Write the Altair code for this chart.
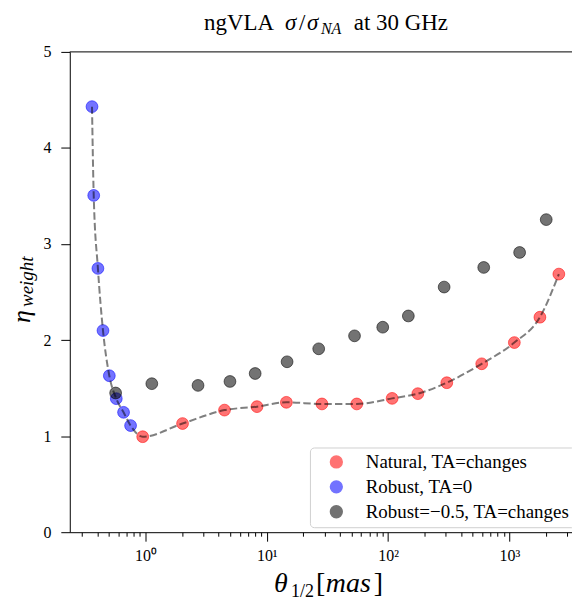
import altair as alt
import pandas as pd

# ---------------- data ----------------
series_names = ["Natural, TA=changes", "Robust, TA=0", "Robust=\u22120.5, TA=changes"]
series_colors = ["#ff0000", "#0000ff", "#000000"]

natural_x = [0.948, 2.02, 4.48, 8.3, 14.5, 28.5, 55.2, 108, 176, 305, 592, 1100, 1787, 2560]
natural_y = [0.994, 1.131, 1.271, 1.307, 1.352, 1.335, 1.335, 1.393, 1.442, 1.556, 1.753, 1.974, 2.238, 2.687]

robust0_x = [0.362, 0.374, 0.405, 0.446, 0.503, 0.574, 0.659, 0.753]
robust0_y = [4.43, 3.506, 2.746, 2.099, 1.629, 1.39, 1.248, 1.11]

robustm_x = [0.567, 1.127, 2.71, 4.97, 8.02, 14.7, 26.8, 52.9, 90.4, 147, 290, 615, 1216, 2015]
robustm_y = [1.449, 1.546, 1.528, 1.569, 1.652, 1.774, 1.909, 2.044, 2.134, 2.251, 2.552, 2.756, 2.912, 3.254]

x_major = [1, 10, 100, 1000]
x_major_labels = ["10\u2070", "10\u00b9", "10\u00b2", "10\u00b3"]
y_ticks = [0, 1, 2, 3, 4, 5]

# ---------------- tables ----------------
rows = []
for name, xs, ys in zip(series_names,
                        [natural_x, robust0_x, robustm_x],
                        [natural_y, robust0_y, robustm_y]):
    for xv, yv in zip(xs, ys):
        rows.append({"series": name, "theta": xv, "eta": yv})
df = pd.DataFrame(rows)

fit_df = pd.DataFrame({"theta": robust0_x + natural_x,
                       "eta": robust0_y + natural_y}).sort_values("theta")

W, H = 504, 482
x_dom = [0.2374, 3287]
x_ticks = []
for dec in [0.1, 1, 10, 100, 1000]:
    for m in range(1, 10):
        v = m * dec if dec >= 1 else round(m * dec, 1)
        if x_dom[0] <= v <= x_dom[1]:
            x_ticks.append(v)

major_test = " || ".join(f"datum.value == {v}" for v in x_major)
label_expr = "".join(f"datum.value == {v} ? '{lab}' : " for v, lab in zip(x_major, x_major_labels)) + "''"

FONT = "Liberation Serif"

x_scale = alt.Scale(type="log", domain=x_dom, nice=False)
y_scale = alt.Scale(domain=[0, 5], nice=False)

x_axis = alt.Axis(values=x_ticks, title=None, grid=False,
                  tickSize={"condition": {"test": major_test, "value": 9}, "value": 4},
                  labelExpr=label_expr, labelPadding=6, labelFlush=False,
                  labelOverlap=False)
y_axis = alt.Axis(values=y_ticks, title=None, grid=False, tickSize=9,
                  labelPadding=10, format="d")

color_scale = alt.Scale(domain=series_names, range=series_colors)

points = alt.Chart(df).mark_circle(size=140, fillOpacity=0.55, strokeOpacity=0.55,
                                   strokeWidth=1).encode(
    x=alt.X("theta:Q", scale=x_scale, axis=x_axis),
    y=alt.Y("eta:Q", scale=y_scale, axis=y_axis),
    color=alt.Color("series:N", scale=color_scale,
                    legend=alt.Legend(title=None, orient="none", legendX=241, legendY=397,
                                      padding=5, symbolOffset=12, symbolSize=140,
                                      symbolType="circle", symbolOpacity=0.55,
                                      labelFont=FONT, labelFontSize=19, labelOffset=20,
                                      rowPadding=5, strokeColor="#d0d0d0",
                                      fillColor="rgba(255,255,255,0.8)", cornerRadius=4,
                                      labelColor="black", labelLimit=0)),
    stroke=alt.Stroke("series:N", scale=color_scale, legend=None),
)

line = alt.Chart(fit_df).mark_line(color="black", strokeOpacity=0.5, strokeWidth=2,
                                   strokeDash=[7.4, 3.2], interpolate="monotone").encode(
    x=alt.X("theta:Q", scale=x_scale, axis=x_axis),
    y=alt.Y("eta:Q", scale=y_scale, axis=y_axis),
)

one = alt.Data(values=[{}])

top_spine = alt.Chart(one).mark_rule(color="black", strokeWidth=1).encode(
    x=alt.value(0), x2=alt.value(W), y=alt.value(0))


def txt(s, x, y, size, italic=False, align="left", angle=0):
    kw = dict(text=s, font=FONT, fontSize=size, align=align, baseline="alphabetic",
              color="black")
    if italic:
        kw["fontStyle"] = "italic"
    if angle:
        kw["angle"] = angle
    return alt.Chart(one).mark_text(**kw).encode(x=alt.value(x), y=alt.value(y))


TB = -22  # title baseline (plot coords)
labels = [
    # title
    txt("ngVLA", 205, TB, 23, align="right"),
    txt("\u03c3", 216, TB, 23, italic=True),
    txt("/", 230, TB, 23),
    txt("\u03c3", 238, TB, 23, italic=True),
    txt("NA", 252, TB + 4.5, 16, italic=True),
    txt("at 30 GHz", 285, TB, 23),
    # x axis title
    txt("\u03b8", 205, 542, 28, italic=True),
    txt("1/2", 222, 547, 18),
    txt("[", 247, 542, 28),
    txt("mas", 257, 542, 28, italic=True),
    txt("]", 305, 542, 28),
    # y axis title
    txt("\u03b7", -40, 272, 26, italic=True, angle=270),
    txt("weight", -37, 256, 19, italic=True, angle=270),
]

chart = alt.layer(points, line, top_spine, *labels).properties(
    width=W, height=H,
    padding={"left": 62, "top": 43, "right": 0, "bottom": 68},
    autosize=alt.AutoSizeParams(type="none"),
).configure_view(stroke=None).configure_axis(
    domainColor="black", domainWidth=1, tickColor="black", tickWidth=1,
    labelFont=FONT, labelFontSize=16, labelColor="black",
)

chart.save("out.html", embed_options={"renderer": "svg", "actions": False})
